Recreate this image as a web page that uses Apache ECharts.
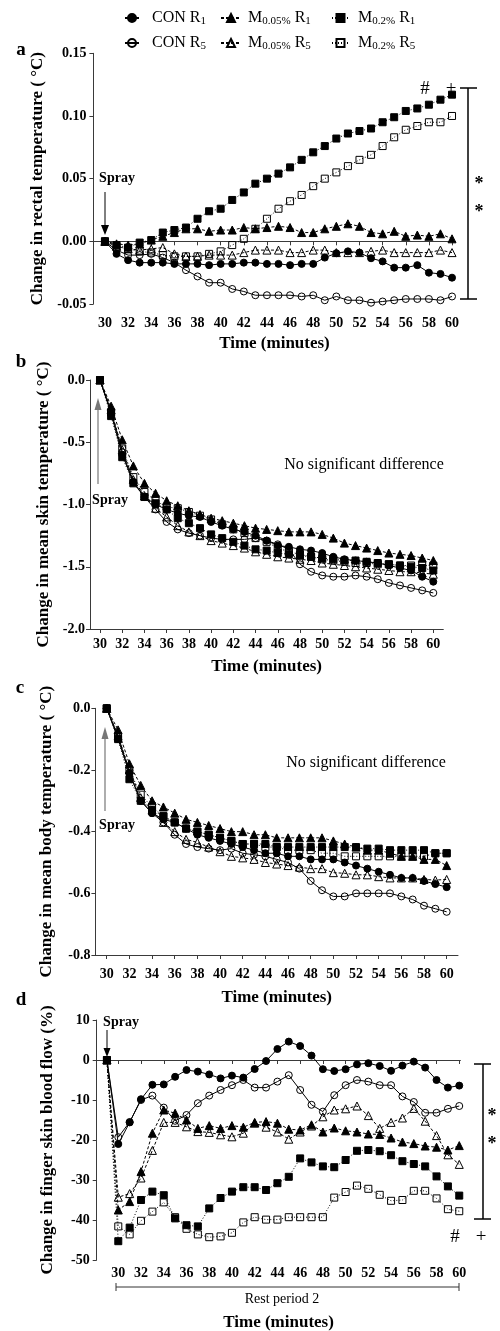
<!DOCTYPE html>
<html><head><meta charset="utf-8">
<script src="https://cdn.jsdelivr.net/npm/echarts@6/dist/echarts.min.js"></script>
<style>html,body{margin:0;padding:0;background:#fff}#c{width:500px;height:1331px}</style>
</head><body><div id="c"></div>
<script>
// ---------- data ----------
const minutes = [30,31,32,33,34,35,36,37,38,39,40,41,42,43,44,45,46,47,48,49,50,51,52,53,54,55,56,57,58,59,60];
const minutesD = [29,30,31,32,33,34,35,36,37,38,39,40,41,42,43,44,45,46,47,48,49,50,51,52,53,54,55,56,57,58,59,60];
const xTicks = [30,32,34,36,38,40,42,44,46,48,50,52,54,56,58,60];
const seriesNames = ['CON R1','M0.05% R1','M0.2% R1','CON R5','M0.05% R5','M0.2% R5'];

// a: rectal temperature (°C)
const rectal_CON_R1 = [0,-0.010,-0.015,-0.017,-0.017,-0.017,-0.018,-0.018,-0.018,-0.019,-0.018,-0.018,-0.017,-0.017,-0.018,-0.018,-0.019,-0.018,-0.018,-0.013,-0.0095,-0.008,-0.009,-0.0135,-0.016,-0.021,-0.021,-0.019,-0.025,-0.026,-0.029];
const rectal_CON_R5 = [0,-0.007,-0.011,-0.011,-0.010,-0.013,-0.017,-0.023,-0.028,-0.033,-0.033,-0.038,-0.040,-0.043,-0.043,-0.043,-0.043,-0.044,-0.043,-0.047,-0.044,-0.047,-0.047,-0.049,-0.048,-0.047,-0.046,-0.046,-0.046,-0.047,-0.044];
const rectal_M005_R1 = [0,-0.002,-0.003,-0.002,0.001,0.004,0.007,0.010,0.010,0.008,0.009,0.009,0.011,0.010,0.011,0.012,0.011,0.007,0.007,0.010,0.012,0.014,0.012,0.007,0.006,0.008,0.004,0.005,0.004,0.006,0.002];
const rectal_M005_R5 = [0,-0.004,-0.006,-0.007,-0.006,-0.005,-0.010,-0.012,-0.012,-0.011,-0.011,-0.011,-0.009,-0.007,-0.007,-0.007,-0.009,-0.009,-0.007,-0.007,-0.009,-0.009,-0.009,-0.008,-0.007,-0.009,-0.009,-0.009,-0.009,-0.007,-0.009];
const rectal_M02_R1 = [0,-0.003,-0.005,-0.001,0.001,0.007,0.009,0.011,0.018,0.024,0.026,0.033,0.039,0.046,0.050,0.054,0.059,0.065,0.071,0.076,0.082,0.086,0.088,0.090,0.095,0.099,0.104,0.106,0.109,0.113,0.117];
const rectal_M02_R5 = [0,-0.004,-0.006,-0.008,-0.009,-0.011,-0.012,-0.012,-0.012,-0.010,-0.008,-0.003,0.002,0.010,0.018,0.026,0.032,0.037,0.044,0.050,0.055,0.060,0.065,0.069,0.076,0.083,0.089,0.092,0.095,0.095,0.100];

// b: mean skin temperature (°C)
const skin_CON_R1 = [0,-0.27,-0.60,-0.82,-0.94,-1.00,-1.04,-1.07,-1.09,-1.10,-1.14,-1.17,-1.20,-1.22,-1.25,-1.29,-1.33,-1.34,-1.36,-1.37,-1.39,-1.42,-1.44,-1.45,-1.46,-1.47,-1.49,-1.51,-1.53,-1.58,-1.62];
const skin_CON_R5 = [0,-0.25,-0.58,-0.82,-0.94,-1.04,-1.14,-1.20,-1.23,-1.25,-1.27,-1.28,-1.28,-1.28,-1.27,-1.29,-1.32,-1.36,-1.48,-1.54,-1.57,-1.58,-1.58,-1.57,-1.58,-1.60,-1.63,-1.65,-1.67,-1.69,-1.71];
const skin_M005_R1 = [0,-0.21,-0.48,-0.69,-0.83,-0.91,-0.97,-1.01,-1.05,-1.08,-1.11,-1.13,-1.15,-1.17,-1.19,-1.20,-1.21,-1.22,-1.22,-1.22,-1.24,-1.27,-1.31,-1.33,-1.35,-1.37,-1.39,-1.40,-1.41,-1.43,-1.45];
const skin_M005_R5 = [0,-0.24,-0.56,-0.80,-0.93,-1.03,-1.10,-1.17,-1.22,-1.25,-1.29,-1.31,-1.33,-1.35,-1.38,-1.40,-1.42,-1.43,-1.44,-1.45,-1.47,-1.48,-1.49,-1.50,-1.51,-1.52,-1.53,-1.54,-1.54,-1.55,-1.56];
const skin_M02_R1 = [0,-0.29,-0.62,-0.83,-0.94,-0.99,-1.04,-1.11,-1.15,-1.19,-1.24,-1.27,-1.30,-1.33,-1.36,-1.37,-1.39,-1.40,-1.41,-1.42,-1.43,-1.44,-1.45,-1.45,-1.46,-1.47,-1.48,-1.49,-1.50,-1.51,-1.53];
const skin_M02_R5 = [0,-0.26,-0.55,-0.78,-0.90,-0.97,-1.02,-1.03,-1.06,-1.09,-1.12,-1.16,-1.20,-1.23,-1.27,-1.30,-1.35,-1.38,-1.40,-1.42,-1.44,-1.45,-1.46,-1.47,-1.47,-1.48,-1.48,-1.49,-1.49,-1.49,-1.49];

// c: mean body temperature (°C)
const body_CON_R1 = [0,-0.10,-0.21,-0.30,-0.34,-0.36,-0.37,-0.39,-0.41,-0.42,-0.43,-0.44,-0.45,-0.46,-0.47,-0.47,-0.48,-0.48,-0.49,-0.49,-0.49,-0.50,-0.51,-0.52,-0.53,-0.54,-0.55,-0.55,-0.56,-0.57,-0.58];
const body_CON_R5 = [0,-0.09,-0.21,-0.30,-0.34,-0.37,-0.41,-0.44,-0.45,-0.455,-0.46,-0.455,-0.47,-0.475,-0.48,-0.49,-0.50,-0.52,-0.56,-0.59,-0.61,-0.61,-0.60,-0.60,-0.60,-0.60,-0.61,-0.62,-0.64,-0.65,-0.66];
const body_M005_R1 = [0,-0.07,-0.18,-0.25,-0.30,-0.32,-0.34,-0.36,-0.37,-0.38,-0.39,-0.40,-0.40,-0.41,-0.41,-0.42,-0.42,-0.42,-0.42,-0.42,-0.43,-0.44,-0.45,-0.46,-0.46,-0.47,-0.48,-0.48,-0.49,-0.49,-0.51];
const body_M005_R5 = [0,-0.09,-0.20,-0.29,-0.33,-0.37,-0.40,-0.425,-0.435,-0.45,-0.465,-0.48,-0.485,-0.49,-0.50,-0.505,-0.51,-0.515,-0.52,-0.52,-0.533,-0.535,-0.54,-0.54,-0.546,-0.55,-0.55,-0.55,-0.555,-0.557,-0.555];
const body_M02_R1 = [0,-0.10,-0.23,-0.30,-0.33,-0.35,-0.37,-0.39,-0.40,-0.41,-0.42,-0.43,-0.44,-0.44,-0.44,-0.45,-0.45,-0.45,-0.45,-0.45,-0.45,-0.45,-0.45,-0.455,-0.455,-0.46,-0.46,-0.46,-0.46,-0.47,-0.47];
const body_M02_R5 = [0,-0.09,-0.20,-0.28,-0.32,-0.35,-0.37,-0.39,-0.40,-0.41,-0.42,-0.43,-0.44,-0.44,-0.45,-0.45,-0.46,-0.46,-0.46,-0.47,-0.47,-0.48,-0.48,-0.48,-0.48,-0.48,-0.48,-0.48,-0.48,-0.47,-0.47];

// d: finger skin blood flow (%), first value is the pre-spray baseline
const flow_CON_R1 = [0,-21,-15.6,-9.8,-6.2,-6.1,-4.2,-2.5,-2.9,-3.6,-4.6,-3.9,-4.4,-2.25,-0.25,2.75,4.6,3.5,1.1,-2.3,-2.75,-2.3,-1.1,-0.8,-1.5,-2.7,-1.4,-0.4,-1.9,-5.0,-6.9,-6.4];
const flow_CON_R5 = [0,-19.3,-15.5,-10,-8.9,-11.9,-15.2,-13.75,-10.8,-8.9,-7.5,-6.3,-5.0,-6.9,-6.9,-5.4,-3.8,-7.5,-11.2,-12.9,-8.8,-6.3,-5.0,-5.4,-6.3,-6.3,-9.1,-10.5,-13.2,-13.2,-12.2,-11.5];
const flow_M005_R1 = [0,-37.5,-35.4,-27.9,-18.3,-12.5,-13.3,-15,-17.1,-16.4,-17.1,-16.4,-16.8,-15.6,-15.4,-15.8,-17.3,-17.5,-16.2,-18,-17,-17.7,-18,-18.5,-18.6,-19.5,-20.5,-20.9,-21.5,-21.8,-22.5,-21.4];
const flow_M005_R5 = [0,-34.3,-33.4,-29.5,-22.6,-15.6,-15.6,-16.7,-17.9,-18.1,-18.7,-19.2,-18.3,-15.8,-16.8,-18,-19.8,-18,-16.5,-14.2,-12.5,-12.2,-11.5,-13.9,-17.1,-15.6,-14.5,-12.1,-15.3,-18.9,-23.7,-26.1];
const flow_M02_R1 = [0,-45.3,-41.9,-35,-32.9,-33.8,-39.6,-41.3,-41.6,-37.1,-34.5,-32.9,-31.8,-31.8,-32.5,-30.8,-29.2,-24.6,-25.6,-26.6,-26.8,-25,-22.7,-22.5,-22.8,-23.8,-25.3,-26,-26.6,-29.1,-31.6,-33.9];
const flow_M02_R5 = [0,-41.6,-43.6,-40.2,-37.9,-35.6,-39.3,-42.2,-43.6,-44.3,-44.1,-43.2,-40.6,-39.3,-39.9,-39.9,-39.3,-39.3,-39.3,-39.3,-34.4,-33,-31.4,-32.2,-33.7,-35.2,-35,-32.7,-32.7,-34.6,-37.3,-37.8];

// ---------- styling ----------
const SERIF = '"Liberation Serif", "Times New Roman", serif';
const AX = '#3a3a3a';
const styleOf = {
  'CON R1':    {symbol:'circle',   size:7, filled:true,  dash:'solid'},
  'CON R5':    {symbol:'circle',   size:7, filled:false, dash:'solid'},
  'M0.05% R1': {symbol:'triangle', size:8, filled:true,  dash:[3,2]},
  'M0.05% R5': {symbol:'triangle', size:8, filled:false, dash:[3,2]},
  'M0.2% R1':  {symbol:'rect',     size:7, filled:true,  dash:[1,2]},
  'M0.2% R5':  {symbol:'rect',     size:7, filled:false, dash:[1,2]}
};
function mk(name, gi, xs, ys) {
  const s = styleOf[name];
  return {
    type:'line', name, xAxisIndex:gi, yAxisIndex:gi,
    data: xs.map((x,i)=>[x, ys[i]]),
    symbol:s.symbol, symbolSize:s.size, showSymbol:true,
    itemStyle:{color: s.filled ? '#000' : 'rgba(255,255,255,0)', borderColor:'#000', borderWidth:1},
    lineStyle:{color:'#000', width:1, type:s.dash},
    emphasis:{disabled:true}, silent:true, animation:false,
    z: s.filled ? 3 : 2
  };
}
const panels = [
  {gi:0, xs:minutes,  d:{'CON R5':rectal_CON_R5,'M0.05% R5':rectal_M005_R5,'M0.2% R5':rectal_M02_R5,'CON R1':rectal_CON_R1,'M0.05% R1':rectal_M005_R1,'M0.2% R1':rectal_M02_R1}},
  {gi:1, xs:minutes,  d:{'CON R5':skin_CON_R5,'M0.05% R5':skin_M005_R5,'M0.2% R5':skin_M02_R5,'CON R1':skin_CON_R1,'M0.05% R1':skin_M005_R1,'M0.2% R1':skin_M02_R1}},
  {gi:2, xs:minutes,  d:{'CON R5':body_CON_R5,'M0.05% R5':body_M005_R5,'M0.2% R5':body_M02_R5,'CON R1':body_CON_R1,'M0.05% R1':body_M005_R1,'M0.2% R1':body_M02_R1}},
  {gi:3, xs:minutesD, d:{'CON R5':flow_CON_R5,'M0.05% R5':flow_M005_R5,'M0.2% R5':flow_M02_R5,'CON R1':flow_CON_R1,'M0.05% R1':flow_M005_R1,'M0.2% R1':flow_M02_R1}}
];
const series = [];
panels.forEach(p => Object.keys(p.d).forEach(n => series.push(mk(n, p.gi, p.xs, p.d[n]))));

const grids = [
  {left:93.4, top:53.3, width:362.1, height:250.7},
  {left:90,   top:380,  width:353.3, height:249},
  {left:95.4, top:708.3,width:362.6, height:246.7},
  {left:96.7, top:1020, width:363.7, height:240}
].map(g => Object.assign(g, {containLabel:false, outerBoundsMode:'none'}));

const tickFont = {fontFamily:SERIF, fontWeight:'bold', fontSize:14, color:'#000'};
const titleFont = {fontFamily:SERIF, fontWeight:'bold', fontSize:17, color:'#000'};
function xAx(gi, min, max, onZero, margin, nameGap) {
  return {gridIndex:gi, type:'value', min, max,
    axisLine:{show:true, onZero, lineStyle:{color:AX, width:1}},
    axisTick:{show:true, customValues:xTicks, length:4, lineStyle:{color:AX}},
    axisLabel:Object.assign({customValues:xTicks, margin}, tickFont),
    splitLine:{show:false},
    name:'Time (minutes)', nameLocation:'middle', nameGap, nameTextStyle:titleFont};
}
function yAx(gi, min, max, interval, fmt, name, nameGap, margin) {
  return {gridIndex:gi, type:'value', min, max, interval,
    axisLine:{show:true, lineStyle:{color:AX, width:1}},
    axisTick:{show:true, length:4, lineStyle:{color:AX}},
    axisLabel:Object.assign({formatter:fmt, margin}, tickFont),
    splitLine:{show:false},
    name, nameLocation:'middle', nameGap, nameRotate:90, nameTextStyle:titleFont};
}
const xAxis = [
  xAx(0, 29, 60.3, true, 12, 31),
  xAx(1, 29.1, 60.9, false, 8, 29),
  xAx(2, 29, 61, false, 12, 34),
  xAx(3, 28.1, 60.1, true, 6, 54)
];
const yAxis = [
  yAx(0, -0.05, 0.15, 0.05, v=>v.toFixed(2), 'Change in rectal temperature ( °C)', 43, 7),
  yAx(1, -2, 0, 0.5, v=>v.toFixed(1), 'Change in mean skin temperature ( °C)', 35, 5),
  yAx(2, -0.8, 0, 0.2, v=>v.toFixed(1), 'Change in mean body temperature ( °C)', 40, 5),
  yAx(3, -50, 10, 10, v=>String(Math.round(v)), 'Change in finger skin blood flow (%)', 41, 7)
];

// legends
const legendLabel = {
  'CON R1':'CON R{s|1}', 'CON R5':'CON R{s|5}',
  'M0.05% R1':'M{s|0.05%} R{s|1}', 'M0.05% R5':'M{s|0.05%} R{s|5}',
  'M0.2% R1':'M{s|0.2%} R{s|1}', 'M0.2% R5':'M{s|0.2%} R{s|5}'
};
const legPos = {
  'CON R1':[124,9,14,8], 'M0.05% R1':[220,9,20,2], 'M0.2% R1':[331,9,17,4],
  'CON R5':[124,34,14,8], 'M0.05% R5':[220,34,20,2], 'M0.2% R5':[331,34,17,4]
};
const legend = seriesNames.map(n => ({
  data:[n], left:legPos[n][0], top:legPos[n][1], padding:0,
  itemWidth:legPos[n][2], itemHeight:10, selectedMode:false,
  formatter: nm => legendLabel[nm],
  textStyle:{fontFamily:SERIF, fontSize:16, color:'#000', lineHeight:18, padding:[0,0,0,legPos[n][3]],
    rich:{s:{fontFamily:SERIF, fontSize:11, color:'#000', verticalAlign:'bottom', lineHeight:9}}}
}));

// annotations
function txt(text, x, y, size, bold, extra) {
  return Object.assign({type:'text', silent:true, style:{text, x, y, fill:'#000',
    font:(bold?'bold ':'')+size+'px '+SERIF, textAlign:'center', textVerticalAlign:'middle'}}, extra||{});
}
function ln(x1,y1,x2,y2,w,c) {
  return {type:'line', silent:true, shape:{x1,y1,x2,y2}, style:{stroke:c||'#000', lineWidth:w||1}};
}
function tri(pts,c) { return {type:'polygon', silent:true, shape:{points:pts}, style:{fill:c||'#000'}}; }
const graphic = [
  txt('a',21,50,19,true), txt('b',21,362,19,true), txt('c',20,688,19,true), txt('d',21,1000,19,true),
  // panel a
  txt('Spray',117,178,14,true),
  ln(105,192,105,226,1), tri([[101,225],[109,225],[105,235]]),
  txt('#',425,89,19,false), txt('+',451,89,19,false),
  ln(468,88,468,299,1.5), ln(460,88,477,88,1.5), ln(460,299,477,299,1.5),
  txt('*',479,184,18,true), txt('*',479,212,18,true),
  // panel b
  txt('No significant difference',364,465,16,false),
  txt('Spray',110,500,14,true),
  ln(98,484,98,408,1.2,'#777'), tri([[94.5,410],[101.5,410],[98,398]],'#777'),
  // panel c
  txt('No significant difference',366,763,16,false),
  txt('Spray',117,825,14,true),
  ln(105,811,105,737,1.2,'#777'), tri([[101.5,739],[108.5,739],[105,727]],'#777'),
  // panel d
  txt('Spray',121,1022,14,true),
  ln(107,1030,107,1050,1), tri([[103.5,1048],[110.5,1048],[107,1057]]),
  ln(483,1064,483,1219,1.5), ln(474,1064,491,1064,1.5), ln(474,1219,491,1219,1.5),
  txt('*',492,1116,18,true), txt('*',492,1144,18,true),
  txt('#',455,1237,19,false), txt('+',481,1237,19,false),
  ln(116,1287,459,1287,1,'#333'), ln(116,1283,116,1291,1,'#333'), ln(459,1283,459,1291,1,'#333'),
  txt('Rest period 2',282,1299,14,false)
];

const chart = echarts.init(document.getElementById('c'), null, {renderer:'canvas'});
chart.setOption({
  backgroundColor:'#fff', animation:false,
  grid:grids, xAxis, yAxis, legend, series, graphic
});
</script></body></html>
